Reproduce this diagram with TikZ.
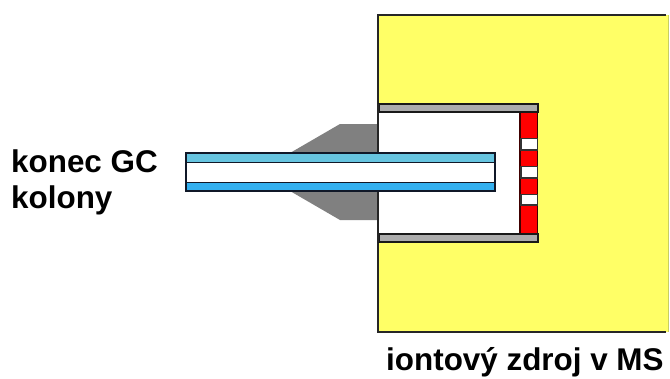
\documentclass[tikz,border=0pt]{standalone}
\usepackage{fontspec}
\setmainfont{Liberation Sans}
\definecolor{srcyellow}{HTML}{FFFF66}
\definecolor{conegrey}{HTML}{808080}
\definecolor{bandgrey}{HTML}{ACACAC}
\definecolor{capblue}{HTML}{33B0F0}
\definecolor{capteal}{HTML}{66C4E0}
\definecolor{darkline}{HTML}{101828}
\definecolor{rimolive}{HTML}{C8D060}
\tikzset{
  outline/.style={draw=black!85,line width=2.4pt},
  labeltext/.style={inner sep=0pt,anchor=base west,font=\fontsize{31.4}{32}\selectfont\bfseries},
}
\begin{document}
\begin{tikzpicture}[x=1pt,y=-1pt]
\useasboundingbox (0,0) rectangle (670,378);
\fill[white] (0,0) rectangle (670,378);
% ion source block
\fill[srcyellow] (378,15) rectangle (668.5,332);
\draw[rimolive,line width=1pt] (668.5,15) -- (668.5,332);
\draw[outline,line cap=butt] (666,15) -- (378,15) -- (378,332) -- (666,332);
% cone
\fill[conegrey] (290,153) -- (340,124) -- (378,124) -- (378,153) -- cycle;
\fill[conegrey] (290,191) -- (340,220) -- (378,220) -- (378,191) -- cycle;
% chamber
\fill[white] (379,104) rectangle (538,242);
% red end wall
\draw[draw=black!75!red,line width=1.6pt,fill=red] (520,110) rectangle (537.5,234);
\foreach \ya/\yb in {138.5/150,166.5/178,194.5/205}
  \draw[draw=black!80,line width=1.4pt,fill=white] (521,\ya) rectangle (537.5,\yb);
% bands
\draw[draw=black!90,line width=2pt,fill=bandgrey] (379,104) rectangle (538,112);
\draw[draw=black!90,line width=2pt,fill=bandgrey] (379,233.5) rectangle (538,242);
\draw[black!85,line width=2.4pt] (378,104) -- (378,152) (378,192) -- (378,242);
% column
\draw[draw=darkline,line width=1.8pt,fill=white] (186,153) rectangle (495,191);
\draw[draw=darkline,line width=1.6pt,fill=capteal] (186,153.5) rectangle (495,162.5);
\draw[draw=darkline,line width=1.6pt,fill=capblue] (186,182.5) rectangle (495,191);
% labels
\node[labeltext] (konec) at (11,172) {konec GC};
\node[labeltext] (kolony) at (11,208) {kolony};
\node[labeltext] (zdroj) at (386,370) {iontový zdroj v MS};
\end{tikzpicture}
\end{document}
